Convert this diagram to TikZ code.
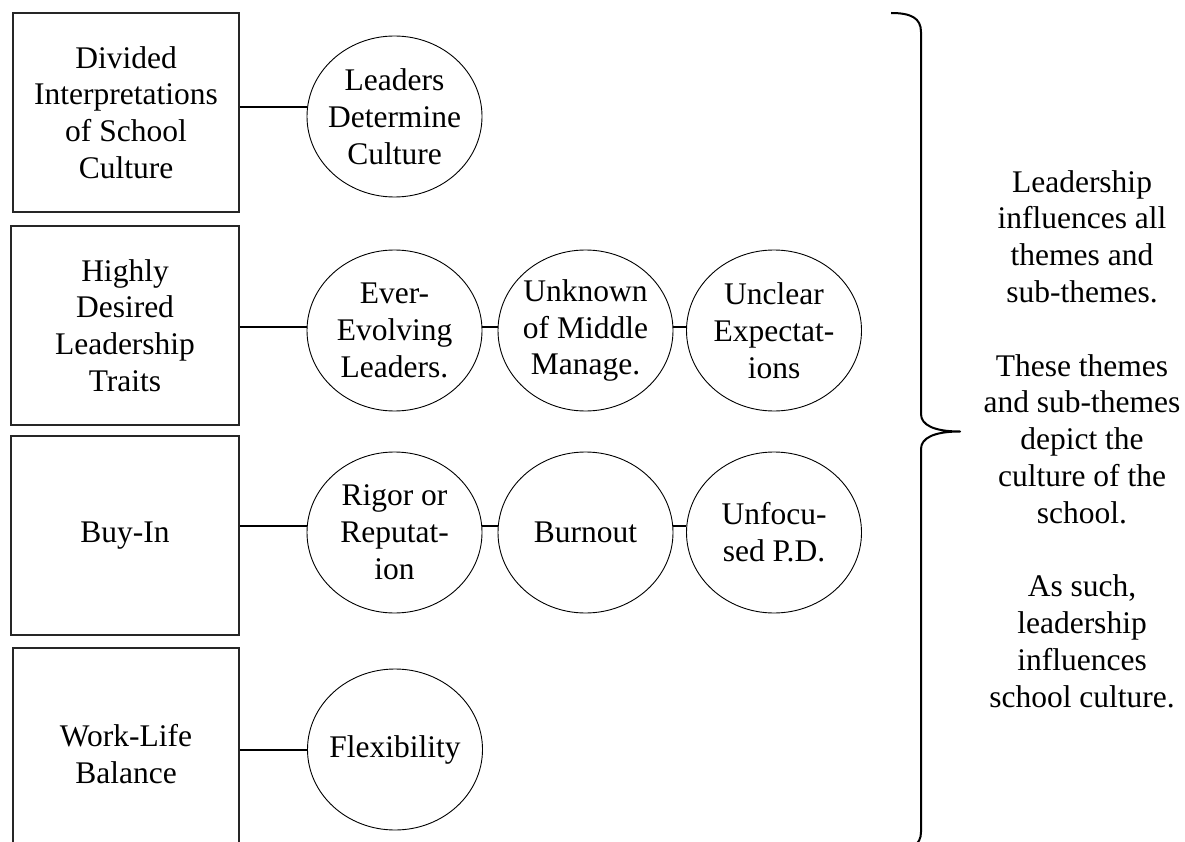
\documentclass[tikz,border=0pt]{standalone}
\usepackage{fontspec}
\setmainfont{Liberation Serif}
\usetikzlibrary{shapes.geometric}
\begin{document}
\begin{tikzpicture}[x=1pt,y=-1pt,
  txt/.style={font=\fontsize{31.5}{36.8}\selectfont, align=center},
  theme/.style={txt, draw=black!85, line width=1.5pt, rectangle, inner sep=0pt},
  sub/.style={txt, draw=black, line width=0.9pt, ellipse,
    minimum width=175pt, minimum height=161pt, inner sep=-10pt},
  link/.style={draw=black, line width=2pt}]
\useasboundingbox (0,0) rectangle (1185,842);
\clip (0,0) rectangle (1185,842);

% themes
\node[theme, minimum width=226pt, minimum height=199pt] (b1) at (126,112.5)
  {Divided\\Interpretations\\of School\\Culture};
\node[theme, minimum width=228pt, minimum height=199pt] (b2) at (125,325.5)
  {Highly\\Desired\\Leadership\\Traits};
\node[theme, minimum width=228pt, minimum height=199pt] (b3) at (125,535.5)
  {Buy-In};
\node[theme, minimum width=226pt, minimum height=212pt] (b4) at (126,754)
  {Work-Life\\Balance};

% sub-themes
\node[sub] (c1)  at (394.5,116.5) {Leaders\\Determine\\Culture};
\node[sub] (c2a) at (394.5,330.5) {Ever-\\Evolving\\Leaders.};
\node[sub] (c2b) at (585.5,330.5) {Unknown\\of Middle\\Manage.};
\node[sub] (c2c) at (774,330.5)   {Unclear\\Expectat-\\ions};
\node[sub] (c3a) at (394.5,532.5) {Rigor or\\Reputat-\\ion};
\node[sub] (c3b) at (585.5,532.5) {Burnout};
\node[sub] (c3c) at (774,532.5)   {Unfocu-\\sed P.D.};
\node[sub] (c4)  at (395,749.5)   {Flexibility};

% connectors
\draw[link] (b1.east |- c1.174) -- (c1.174);
\draw[link] (b2.east |- c2a.178) -- (c2a.178);
\draw[link] (c2a.2) -- (c2b.178);
\draw[link] (c2b.2) -- (c2c.178);
\draw[link] (b3.east |- c3a.176) -- (c3a.176);
\draw[link] (c3a.4) -- (c3b.176);
\draw[link] (c3b.4) -- (c3c.176);
\draw[link] (b4.east |- c4.west) -- (c4.west);

% brace
\draw[line width=2pt, line join=round]
  (891,13) .. controls (911,13) and (921,18) .. (921,32)
  -- (921,414)
  .. controls (921,425) and (934,431.5) .. (960,431.5)
  .. controls (934,431.5) and (921,438) .. (921,449)
  -- (921,832)
  .. controls (921,845) and (911,851) .. (891,851);

% summary
\node[txt, inner sep=0pt] (note) at (1082,439)
  {Leadership\\influences all\\themes and\\sub-themes.\\[36.8pt]
   These themes\\and sub-themes\\depict the\\culture of the\\school.\\[36.8pt]
   As such,\\leadership\\influences\\school culture.};
\end{tikzpicture}
\end{document}
